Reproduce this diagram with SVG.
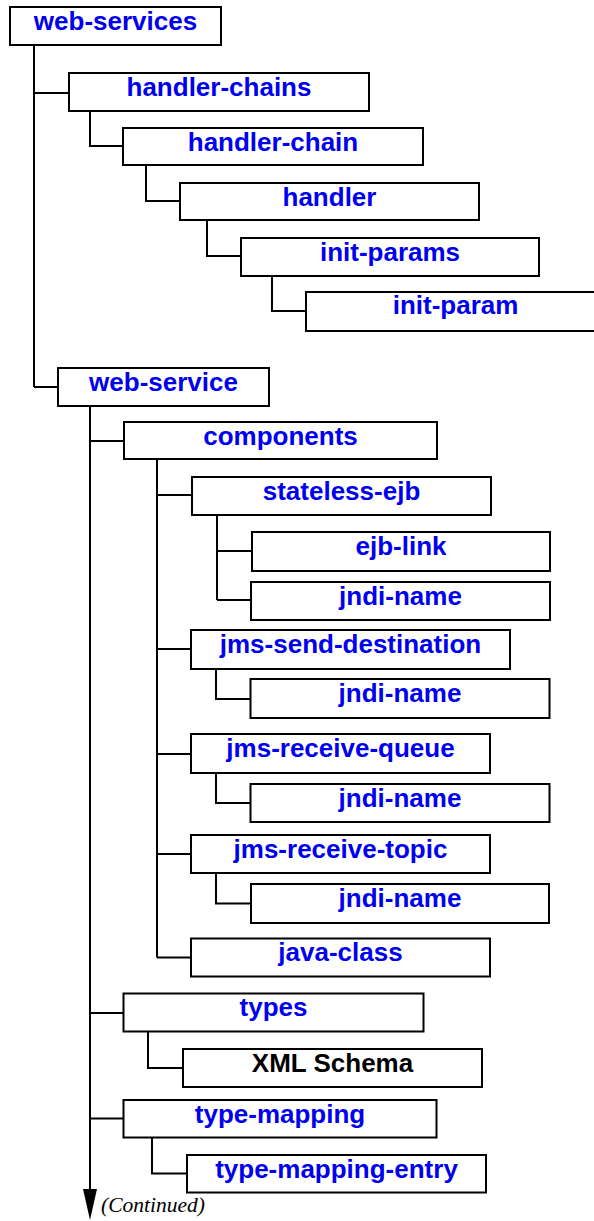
<svg xmlns="http://www.w3.org/2000/svg" width="594" height="1221" viewBox="0 0 594 1221">
<style>
.box{fill:#fff;stroke:#000;stroke-width:2}
.lbl{font-family:"Liberation Sans",Arial,sans-serif;font-weight:bold;font-size:26px;fill:#0000f0;text-anchor:middle}
.blk{fill:#000}
.con{fill:none;stroke:#000;stroke-width:2}
</style>
<rect width="594" height="1221" fill="#fff"/>
<g id="connectors">
<path class="con" d="M34,45V387M34,93H69M34,387H58"/>
<path class="con" d="M90,112V146H123"/>
<path class="con" d="M146,165V201H180"/>
<path class="con" d="M207,220V256H241"/>
<path class="con" d="M272,276V311H306"/>
<path class="con" d="M90,406V1192M90,441H124M90,1013H123.5M90,1118.5H123.5"/>
<path class="con" d="M157,459V957.5M157,495H192M157,649H191M157,754H191M157,854H191M157,957.5H191"/>
<path class="con" d="M217,515V600M217,551H252M217,600H251"/>
<path class="con" d="M216,669V699H250.5"/>
<path class="con" d="M216,773V803H250.5"/>
<path class="con" d="M216,873V903.5H251"/>
<path class="con" d="M148,1031.5V1068H183"/>
<path class="con" d="M152,1137.5V1173.5H187"/>
<polygon points="83,1189 97,1189 90,1220" fill="#000"/>
</g>
<g id="n-web-services"><rect class="box" x="10" y="7" width="211" height="38"/><text class="lbl" x="115.5" y="29.5">web-services</text></g>
<g id="n-handler-chains"><rect class="box" x="69" y="73" width="300" height="38"/><text class="lbl" x="219" y="95.5">handler-chains</text></g>
<g id="n-handler-chain"><rect class="box" x="123" y="128" width="300" height="37"/><text class="lbl" x="273" y="151">handler-chain</text></g>
<g id="n-handler"><rect class="box" x="180" y="183" width="299" height="37"/><text class="lbl" x="329.5" y="205.5">handler</text></g>
<g id="n-init-params"><rect class="box" x="241" y="238" width="298" height="38"/><text class="lbl" x="390" y="261">init-params</text></g>
<g id="n-init-param"><rect class="box" x="306" y="292" width="300" height="39"/><text class="lbl" x="455.5" y="314">init-param</text></g>
<g id="n-web-service"><rect class="box" x="58" y="368" width="211" height="38"/><text class="lbl" x="163.5" y="390.5">web-service</text></g>
<g id="n-components"><rect class="box" x="124" y="422" width="313" height="37"/><text class="lbl" x="280.5" y="444.5">components</text></g>
<g id="n-stateless-ejb"><rect class="box" x="192" y="477" width="299" height="38"/><text class="lbl" x="341.5" y="499.5">stateless-ejb</text></g>
<g id="n-ejb-link"><rect class="box" x="252" y="532" width="298" height="39"/><text class="lbl" x="401" y="554.5">ejb-link</text></g>
<g id="n-jndi-name-1"><rect class="box" x="251" y="582" width="299" height="38"/><text class="lbl" x="400.5" y="604.5">jndi-name</text></g>
<g id="n-jms-send-destination"><rect class="box" x="191" y="630" width="319" height="39"/><text class="lbl" x="350.5" y="652.5">jms-send-destination</text></g>
<g id="n-jndi-name-2"><rect class="box" x="250.5" y="679" width="299" height="39"/><text class="lbl" x="400" y="701.5">jndi-name</text></g>
<g id="n-jms-receive-queue"><rect class="box" x="191" y="734" width="299" height="39"/><text class="lbl" x="340.5" y="756.5">jms-receive-queue</text></g>
<g id="n-jndi-name-3"><rect class="box" x="250.5" y="784" width="299" height="38"/><text class="lbl" x="400" y="806.5">jndi-name</text></g>
<g id="n-jms-receive-topic"><rect class="box" x="191" y="835" width="299" height="38"/><text class="lbl" x="340.5" y="857.5">jms-receive-topic</text></g>
<g id="n-jndi-name-4"><rect class="box" x="251" y="884" width="298" height="39"/><text class="lbl" x="400" y="906.5">jndi-name</text></g>
<g id="n-java-class"><rect class="box" x="191" y="938.5" width="299" height="38"/><text class="lbl" x="340.5" y="961">java-class</text></g>
<g id="n-types"><rect class="box" x="123.5" y="993.5" width="300" height="38"/><text class="lbl" x="273.5" y="1016">types</text></g>
<g id="n-xml-schema"><rect class="box" x="183" y="1049" width="299" height="38"/><text class="lbl blk" x="332.5" y="1071.5">XML Schema</text></g>
<g id="n-type-mapping"><rect class="box" x="123.5" y="1100" width="313" height="37.5"/><text class="lbl" x="280" y="1122.5">type-mapping</text></g>
<g id="n-type-mapping-entry"><rect class="box" x="187" y="1155" width="299" height="37.5"/><text class="lbl" x="336.5" y="1177.5">type-mapping-entry</text></g>
<text x="101" y="1212" font-family="'Liberation Serif','Times New Roman',serif" font-style="italic" font-size="21.5">(Continued)</text>
</svg>
